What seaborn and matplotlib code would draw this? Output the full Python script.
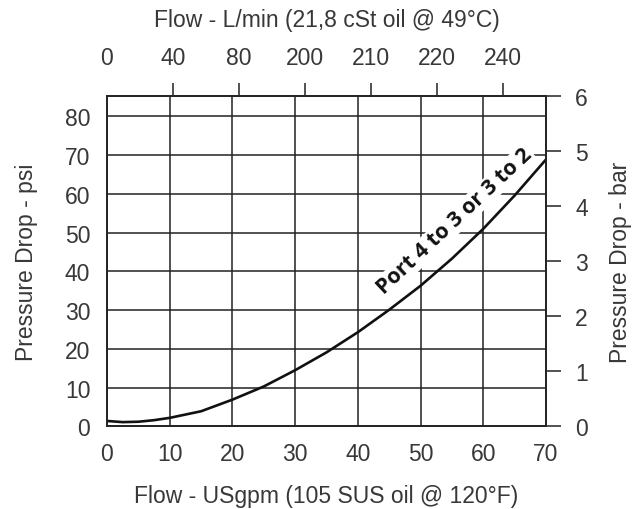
import matplotlib
matplotlib.use('Agg')
import matplotlib.pyplot as plt
import seaborn as sns
import pandas as pd

sns.set_theme(style='white')
plt.rcParams['font.family'] = ['Liberation Sans', 'DejaVu Sans']

# flow (USgpm) vs pressure drop (psi)
flow_gpm = [0, 2.5, 5, 7.5, 10, 15, 20, 25, 30, 35, 40, 45, 50, 55, 60, 65, 70]
drop_psi = [1.4, 1.1, 1.2, 1.6, 2.2, 3.9, 6.9, 10.3, 14.5, 19.1, 24.3, 30.1, 36.3, 43.3, 51.0, 59.6, 68.9]

bottom_ticks = [0, 10, 20, 30, 40, 50, 60, 70]
psi_ticks = [0, 10, 20, 30, 40, 50, 60, 70, 80]
bar_ticks = [0, 1, 2, 3, 4, 5, 6]
top_labels = ['0', '40', '80', '200', '210', '220', '240']

curve_label = 'Port 4 to 3 or 3 to 2'

df = pd.DataFrame({'flow': flow_gpm, 'psi': drop_psi})

txt = '#383838'
fs = 16.5

fig = plt.figure(figsize=(6.33, 5.10), dpi=100)
ax = fig.add_axes([0.169, 0.162, 0.6936, 0.648])

sns.lineplot(data=df, x='flow', y='psi', ax=ax, color='#111111', linewidth=1.9)

ax.set_xlim(0, 70)
ax.set_ylim(0, 85.3)
ax.set_xticks(bottom_ticks)
ax.set_yticks(psi_ticks)
ax.grid(True, color='#222222', linewidth=1.1)
for s in ax.spines.values():
    s.set_color('#222222')
    s.set_linewidth(1.2)
ax.tick_params(axis='both', length=0, labelsize=fs, labelcolor=txt)
ax.tick_params(axis='x', pad=11)
ax.tick_params(axis='y', pad=12)
ax.set_xlabel('Flow - USgpm (105 SUS oil @ 120°F)', fontsize=fs, color=txt, labelpad=14)
ax.set_ylabel('Pressure Drop - psi', fontsize=fs, color=txt, labelpad=19)

ax.text(55.5, 53.0, curve_label, rotation=43, rotation_mode='anchor',
        ha='center', va='center', fontsize=15.5, fontweight='bold',
        color='#111111', family=['Open Sans', 'DejaVu Sans'],
        bbox=dict(facecolor='white', edgecolor='none', pad=1.0))

# right axis in bar
ax_r = ax.twinx()
ax_r.set_ylim(0, 6)
ax_r.set_yticks(bar_ticks)
ax_r.tick_params(axis='y', direction='out', length=11, width=1.1, color='#222222',
                 pad=10, labelsize=fs, labelcolor=txt)
ax_r.set_ylabel('Pressure Drop - bar', fontsize=fs, color=txt, labelpad=15.5)
ax_r.grid(False)

# top axis in L/min
ax_t = ax.twiny()
ax_t.set_xlim(0, 6.65)
ax_t.set_xticks(range(len(top_labels)))
ax_t.set_xticklabels(top_labels)
ax_t.tick_params(axis='x', direction='out', length=9.5, width=1.1, color='#222222',
                 pad=10, labelsize=fs, labelcolor=txt)
ax_t.xaxis.get_major_ticks()[0].tick2line.set_visible(False)
ax_t.set_xlabel('Flow - L/min (21,8 cSt oil @ 49°C)', fontsize=fs, color=txt, labelpad=14)
ax_t.grid(False)

fig.savefig('out.png', dpi=100)
